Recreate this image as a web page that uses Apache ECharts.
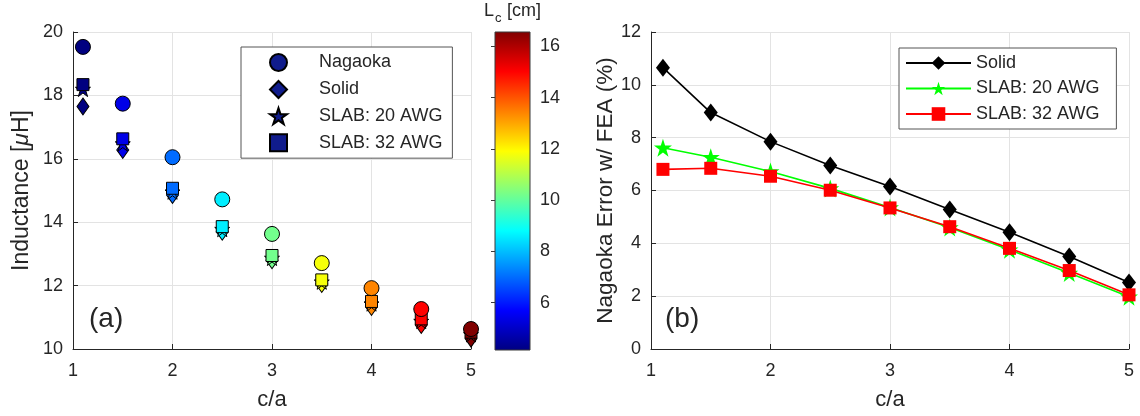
<!DOCTYPE html>
<html>
<head>
<meta charset="utf-8">
<script src="https://cdn.jsdelivr.net/npm/echarts@6/dist/echarts.min.js"></script>
<style>html,body{margin:0;padding:0;background:#fff;}#c{width:1140px;height:416px;}</style>
</head>
<body>
<div id="c"></div>
<script>
// ---- data ----
const ratioCA = [1.1, 1.5, 2, 2.5, 3, 3.5, 4, 4.5, 5];
const coilLength = [4.15, 5.42, 7.0, 8.6, 10.2, 11.8, 13.4, 15.0, 16.56]; // Lc [cm]
const indNagaoka = [19.53, 17.74, 16.05, 14.72, 13.63, 12.71, 11.92, 11.26, 10.63];
const indSolid   = [17.65, 16.28, 14.86, 13.70, 12.80, 12.05, 11.33, 10.76, 10.33];
const indSlab20  = [18.20, 16.48, 14.96, 13.78, 12.87, 12.12, 11.43, 10.88, 10.46];
const indSlab32  = [18.34, 16.63, 15.07, 13.86, 12.95, 12.18, 11.50, 10.95, 10.53];
const errSolid  = [10.65, 8.95, 7.85, 6.95, 6.15, 5.28, 4.42, 3.50, 2.52];
const errSlab20 = [7.62, 7.26, 6.72, 6.08, 5.36, 4.60, 3.76, 2.88, 1.98];
const errSlab32 = [6.80, 6.84, 6.54, 6.01, 5.34, 4.63, 3.81, 2.97, 2.05];
const xTicks = [1, 2, 3, 4, 5];
const lcTicks = [6, 8, 10, 12, 14, 16];

const FONT = 'Liberation Sans, Arial, sans-serif';
const DARK = '#262626';
const GRIDC = '#e3e3e3';
const NAVY = '#101c8c';
const jet = ['#000080','#0000ff','#0080ff','#00ffff','#80ff80','#ffff00','#ff8000','#ff0000','#800000'];
const starPath = 'path://M0,-1L0.2245,-0.309L0.951,-0.309L0.363,0.118L0.588,0.809L0,0.382L-0.588,0.809L-0.363,0.118L-0.951,-0.309L-0.2245,-0.309Z';

const triple = (ys) => ratioCA.map((x, i) => [x, ys[i], coilLength[i]]);
const pairs = (ys) => ratioCA.map((x, i) => [x, ys[i]]);

const chart = echarts.init(document.getElementById('c'), null, {renderer: 'canvas'});

function valueAxis(extra) {
  return Object.assign({
    type: 'value',
    axisLine: {show: true, lineStyle: {color: DARK, width: 1}},
    axisTick: {show: true, inside: true, length: 5, lineStyle: {color: DARK}},
    axisLabel: {color: DARK, fontFamily: FONT, fontSize: 18},
    splitLine: {show: true, lineStyle: {color: GRIDC, width: 1}},
    nameTextStyle: {color: DARK, fontFamily: FONT, fontSize: 22}
  }, extra);
}

const grad = new echarts.graphic.LinearGradient(0, 1, 0, 0,
  jet.map((c, i) => ({offset: i / (jet.length - 1), color: c})));

const option = {
  animation: false,
  backgroundColor: '#fff',
  textStyle: {fontFamily: FONT},
  grid: [
    {left: 73, right: 669, top: 32, height: 317},
    {left: 651, right: 11, top: 32, height: 317},
    {left: 495, width: 35, top: 32, height: 318, show: true, backgroundColor: grad, borderColor: '#3a3a3a', borderWidth: 1}
  ],
  xAxis: [
    valueAxis({gridIndex: 0, min: 1, max: 5, interval: 1, name: 'c/a', nameLocation: 'middle', nameGap: 40,
      axisLabel: {color: DARK, fontFamily: FONT, fontSize: 18, margin: 13, customValues: xTicks}}),
    valueAxis({gridIndex: 1, min: 1, max: 5, interval: 1, name: 'c/a', nameLocation: 'middle', nameGap: 40,
      axisLabel: {color: DARK, fontFamily: FONT, fontSize: 18, margin: 13, customValues: xTicks}}),
    {gridIndex: 2, type: 'value', min: 0, max: 1, show: false}
  ],
  yAxis: [
    valueAxis({gridIndex: 0, min: 10, max: 20, interval: 2, nameLocation: 'middle', nameGap: 40,
      name: '{n|Inductance [}{i|μ}{n|H]}',
      axisLabel: {color: DARK, fontFamily: FONT, fontSize: 18, margin: 10},
      nameTextStyle: {color: DARK, fontFamily: FONT, fontSize: 23,
        rich: {n: {fontSize: 23, fontFamily: FONT, color: DARK}, i: {fontSize: 23, fontFamily: FONT, color: DARK, fontStyle: 'italic'}}}}),
    valueAxis({gridIndex: 1, min: 0, max: 12, interval: 2, nameLocation: 'middle', nameGap: 33,
      name: 'Nagaoka Error w/ FEA (%)',
      axisLabel: {color: DARK, fontFamily: FONT, fontSize: 18, margin: 10},
      nameTextStyle: {color: DARK, fontFamily: FONT, fontSize: 22.5}}),
    {gridIndex: 2, type: 'value', min: coilLength[0], max: coilLength[coilLength.length - 1], position: 'right',
      axisLine: {show: false},
      splitLine: {show: false},
      axisTick: {show: true, inside: true, length: 4, lineStyle: {color: '#3a3a3a'}, customValues: lcTicks},
      axisLabel: {show: true, color: DARK, fontFamily: FONT, fontSize: 18, margin: 10, customValues: lcTicks}}
  ],
  visualMap: {
    type: 'continuous', show: false, dimension: 2, seriesIndex: [0, 1, 2, 3],
    min: coilLength[0], max: coilLength[coilLength.length - 1],
    inRange: {color: jet}
  },
  legend: [
    {
      left: 241, top: 47, orient: 'vertical',
      data: ['Nagaoka', 'Solid', 'SLAB: 20 AWG', 'SLAB: 32 AWG'],
      itemWidth: 17, itemHeight: 17, itemGap: 8, padding: [6, 10, 6, 28],
      symbolKeepAspect: true,
      borderColor: '#555', borderWidth: 1, backgroundColor: '#fff',
      textStyle: {color: DARK, fontFamily: FONT, fontSize: 18, padding: [0, 0, 0, 27]},
      selectedMode: false
    },
    {
      left: 899, top: 48, orient: 'vertical',
      data: ['Solid ', 'SLAB: 20 AWG ', 'SLAB: 32 AWG '],
      itemWidth: 65, itemHeight: 17, itemGap: 7.5, padding: [6, 12, 6, 6],
      borderColor: '#555', borderWidth: 1, backgroundColor: '#fff',
      textStyle: {color: DARK, fontFamily: FONT, fontSize: 18},
      selectedMode: false
    }
  ],
  graphic: [
    {type: 'text', left: 89, top: 305, style: {text: '(a)', font: '28px Liberation Sans, Arial', fill: DARK}},
    {type: 'text', left: 665, top: 305, style: {text: '(b)', font: '28px Liberation Sans, Arial', fill: DARK}},
    {type: 'text', left: 484, top: 2, style: {text: 'L', font: '18px Liberation Sans, Arial', fill: DARK}},
    {type: 'text', left: 495, top: 12, style: {text: 'c', font: '13px Liberation Sans, Arial', fill: DARK}},
    {type: 'text', left: 507, top: 2, style: {text: '[cm]', font: '18px Liberation Sans, Arial', fill: DARK}}
  ],
  series: [
    {name: 'Solid', type: 'scatter', xAxisIndex: 0, yAxisIndex: 0, symbol: 'diamond', symbolSize: [12, 17],
      itemStyle: {color: NAVY, borderColor: '#000', borderWidth: 1, opacity: 1}, data: triple(indSolid), z: 2},
    {name: 'SLAB: 20 AWG', type: 'scatter', xAxisIndex: 0, yAxisIndex: 0, symbol: starPath, symbolSize: 15,
      itemStyle: {color: NAVY, borderColor: '#000', borderWidth: 1, opacity: 1}, data: triple(indSlab20), z: 3},
    {name: 'SLAB: 32 AWG', type: 'scatter', xAxisIndex: 0, yAxisIndex: 0, symbol: 'rect', symbolSize: 12,
      itemStyle: {color: NAVY, borderColor: '#000', borderWidth: 1, opacity: 1}, data: triple(indSlab32), z: 4},
    {name: 'Nagaoka', type: 'scatter', xAxisIndex: 0, yAxisIndex: 0, symbol: 'circle', symbolSize: 15,
      itemStyle: {color: NAVY, borderColor: '#000', borderWidth: 1, opacity: 1}, data: triple(indNagaoka), z: 5},
    {name: 'Solid ', type: 'line', xAxisIndex: 1, yAxisIndex: 1, symbol: 'diamond', symbolSize: [14, 18],
      lineStyle: {color: '#000', width: 1.6}, itemStyle: {color: '#000', opacity: 1}, data: pairs(errSolid), z: 2},
    {name: 'SLAB: 20 AWG ', type: 'line', xAxisIndex: 1, yAxisIndex: 1, symbol: starPath, symbolSize: 18,
      lineStyle: {color: '#00ff00', width: 1.6}, itemStyle: {color: '#00ff00', opacity: 1}, data: pairs(errSlab20), z: 3},
    {name: 'SLAB: 32 AWG ', type: 'line', xAxisIndex: 1, yAxisIndex: 1, symbol: 'rect', symbolSize: 13,
      lineStyle: {color: '#ff0000', width: 1.6}, itemStyle: {color: '#ff0000', opacity: 1}, data: pairs(errSlab32), z: 4}
  ]
};
chart.setOption(option);
</script>
</body>
</html>
